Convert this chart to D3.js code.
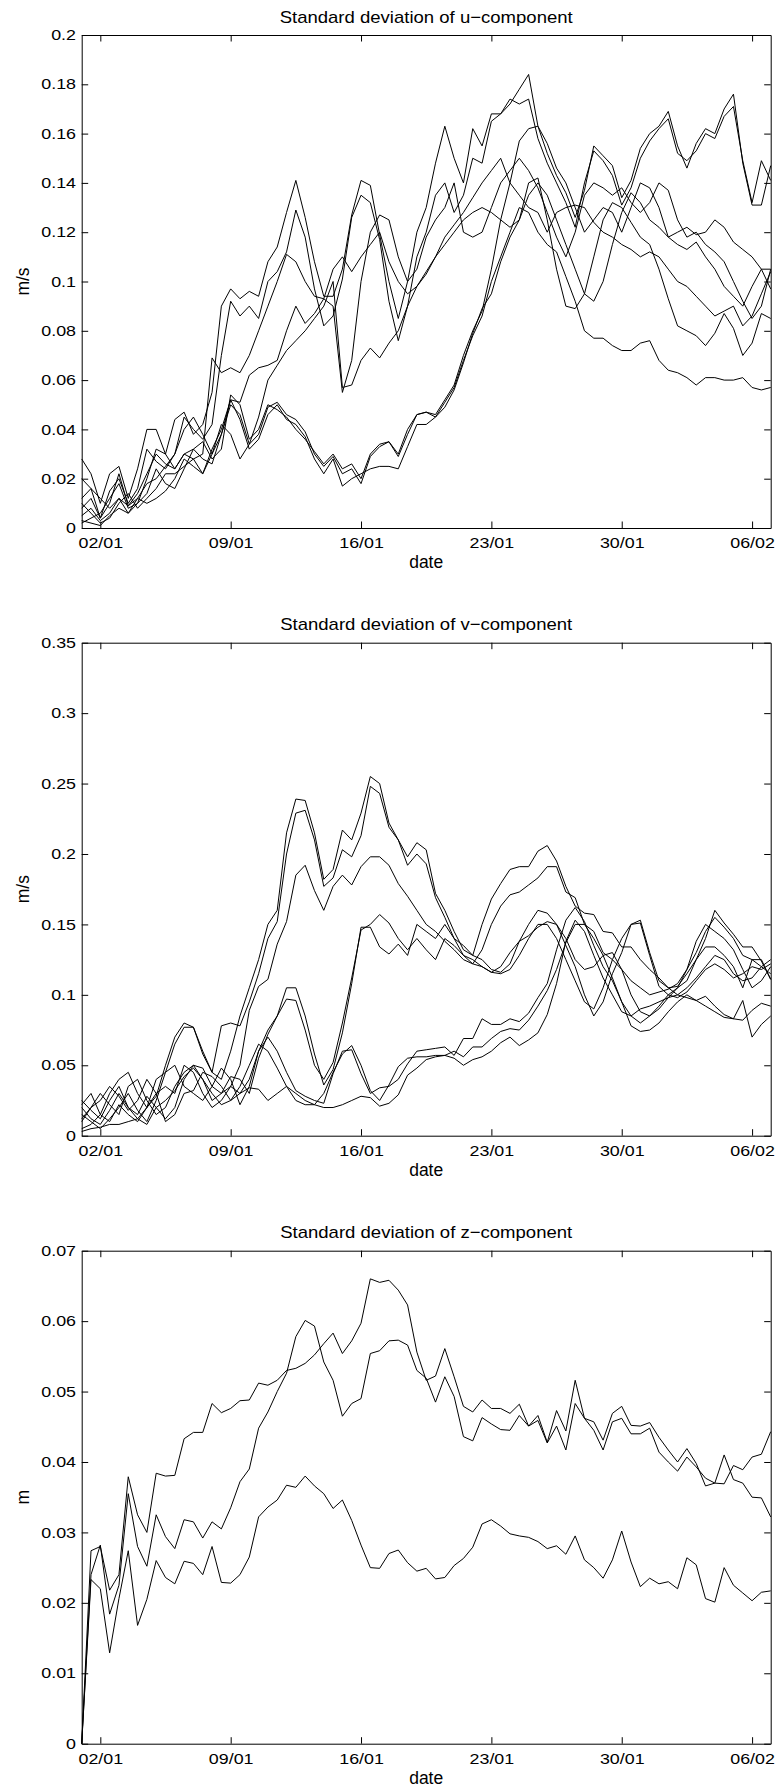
<!DOCTYPE html>
<html>
<head>
<meta charset="utf-8">
<script src="https://cdn.jsdelivr.net/npm/d3@7"></script>
<style>
  html, body { margin: 0; padding: 0; background: #fff; }
  svg { display: block; font-family: "Liberation Sans", Arial, Helvetica, sans-serif; }
</style>
</head>
<body>
<svg id="chart" width="779" height="1789"></svg>
<script>
// Sampling: one value every 12 hours, 1 Jan 00:00 .. 7 Feb 00:00
const year = 2000;
const startDate = Date.UTC(year, 0, 1);
const endDate = Date.UTC(year, 1, 7);
const stepHours = 12;

// Axis ticks
const dateTickLabels = ["02/01", "09/01", "16/01", "23/01", "30/01", "06/02"];
const uTicks = [0, 0.02, 0.04, 0.06, 0.08, 0.1, 0.12, 0.14, 0.16, 0.18, 0.2];
const vTicks = [0, 0.05, 0.1, 0.15, 0.2, 0.25, 0.3, 0.35];
const zTicks = [0, 0.01, 0.02, 0.03, 0.04, 0.05, 0.06, 0.07];

// Standard deviation of u-component (m/s), 8 ensemble members
const u1 = [0.028,0.022,0.010,0.022,0.025,0.012,0.024,0.040,0.040,0.030,
            0.044,0.047,0.038,0.042,0.055,0.090,0.097,0.093,0.096,0.094,
            0.108,0.114,0.128,0.141,0.126,0.108,0.094,0.094,0.105,0.127,
            0.141,0.139,0.119,0.100,0.085,0.100,0.120,0.130,0.148,0.163,
            0.150,0.140,0.162,0.155,0.168,0.168,0.172,0.178,0.184,0.163,
            0.152,0.143,0.136,0.126,0.137,0.155,0.151,0.147,0.134,0.141,
            0.154,0.160,0.163,0.169,0.155,0.146,0.156,0.162,0.160,0.170,
            0.176,0.148,0.131,0.131,0.147];
const u2 = [0.012,0.016,0.004,0.015,0.020,0.010,0.016,0.032,0.027,0.024,
            0.030,0.045,0.040,0.036,0.042,0.070,0.092,0.086,0.090,0.085,
            0.100,0.104,0.112,0.129,0.118,0.097,0.082,0.086,0.101,0.126,
            0.135,0.132,0.117,0.092,0.076,0.090,0.110,0.120,0.135,0.140,
            0.128,0.135,0.150,0.148,0.165,0.168,0.174,0.172,0.174,0.158,
            0.148,0.140,0.132,0.122,0.140,0.153,0.149,0.143,0.131,0.138,
            0.150,0.157,0.162,0.166,0.152,0.149,0.153,0.160,0.158,0.167,
            0.171,0.149,0.132,0.149,0.141];
const u3 = [0.003,0.002,0.001,0.005,0.008,0.006,0.012,0.010,0.012,0.015,
            0.020,0.028,0.025,0.022,0.030,0.038,0.050,0.046,0.034,0.038,
            0.049,0.051,0.046,0.044,0.039,0.030,0.025,0.029,0.022,0.024,
            0.018,0.029,0.033,0.035,0.029,0.038,0.046,0.047,0.046,0.052,
            0.058,0.070,0.080,0.088,0.105,0.125,0.140,0.157,0.162,0.163,
            0.156,0.146,0.140,0.130,0.120,0.125,0.130,0.128,0.120,0.130,
            0.140,0.138,0.130,0.118,0.120,0.122,0.119,0.120,0.125,0.122,
            0.116,0.113,0.110,0.105,0.097];
const u4 = [0.008,0.012,0.004,0.010,0.022,0.009,0.014,0.022,0.030,0.026,
            0.024,0.030,0.032,0.035,0.028,0.032,0.054,0.050,0.036,0.040,
            0.050,0.048,0.045,0.040,0.036,0.031,0.026,0.030,0.024,0.026,
            0.020,0.030,0.034,0.035,0.030,0.040,0.046,0.047,0.045,0.051,
            0.057,0.068,0.078,0.086,0.100,0.110,0.120,0.130,0.128,0.120,
            0.115,0.112,0.102,0.092,0.080,0.077,0.077,0.074,0.072,0.072,
            0.075,0.076,0.068,0.064,0.063,0.061,0.058,0.061,0.061,0.060,
            0.060,0.061,0.057,0.056,0.057];
const u5 = [0.020,0.016,0.012,0.008,0.012,0.006,0.010,0.014,0.024,0.018,
            0.016,0.024,0.032,0.028,0.026,0.038,0.052,0.044,0.032,0.036,
            0.046,0.050,0.044,0.042,0.037,0.028,0.022,0.028,0.017,0.020,
            0.022,0.024,0.025,0.025,0.024,0.033,0.042,0.042,0.045,0.049,
            0.056,0.067,0.079,0.089,0.095,0.108,0.118,0.125,0.140,0.142,
            0.125,0.105,0.090,0.089,0.095,0.110,0.125,0.132,0.130,0.124,
            0.118,0.115,0.105,0.093,0.082,0.080,0.078,0.074,0.079,0.087,
            0.081,0.070,0.075,0.087,0.085];
const u6 = [0.002,0.004,0.006,0.012,0.018,0.008,0.010,0.020,0.032,0.030,
            0.024,0.030,0.028,0.022,0.032,0.040,0.052,0.051,0.062,0.065,
            0.066,0.068,0.080,0.090,0.083,0.087,0.093,0.090,0.055,0.068,
            0.100,0.120,0.127,0.125,0.110,0.100,0.105,0.118,0.125,0.130,
            0.140,0.120,0.118,0.120,0.130,0.140,0.145,0.150,0.145,0.138,
            0.128,0.118,0.110,0.120,0.135,0.140,0.138,0.135,0.138,0.132,
            0.128,0.132,0.140,0.137,0.125,0.118,0.120,0.115,0.112,0.108,
            0.100,0.092,0.085,0.090,0.105];
const u7 = [0.010,0.006,0.002,0.004,0.010,0.014,0.008,0.012,0.016,0.022,
            0.022,0.025,0.028,0.030,0.069,0.063,0.065,0.063,0.070,0.080,
            0.090,0.100,0.111,0.108,0.100,0.094,0.093,0.105,0.110,0.104,
            0.110,0.115,0.120,0.108,0.100,0.095,0.098,0.103,0.110,0.118,
            0.123,0.128,0.134,0.140,0.145,0.150,0.140,0.135,0.130,0.128,
            0.120,0.128,0.130,0.131,0.130,0.124,0.120,0.118,0.115,0.113,
            0.110,0.112,0.110,0.105,0.100,0.098,0.094,0.090,0.086,0.088,
            0.090,0.082,0.086,0.095,0.104];
const u8 = [0.005,0.008,0.003,0.006,0.012,0.009,0.012,0.018,0.020,0.025,
            0.030,0.040,0.045,0.038,0.030,0.042,0.038,0.028,0.034,0.045,
            0.060,0.066,0.072,0.076,0.080,0.085,0.090,0.100,0.057,0.058,
            0.068,0.073,0.069,0.075,0.080,0.090,0.098,0.104,0.110,0.115,
            0.120,0.125,0.128,0.130,0.128,0.125,0.122,0.125,0.135,0.140,
            0.135,0.125,0.115,0.105,0.095,0.092,0.100,0.115,0.128,0.136,
            0.132,0.125,0.122,0.118,0.115,0.113,0.116,0.110,0.105,0.098,
            0.094,0.090,0.098,0.105,0.105];

// Standard deviation of v-component (m/s)
const v1 = [0.020,0.012,0.008,0.018,0.030,0.020,0.012,0.020,0.028,0.050,
            0.070,0.080,0.077,0.060,0.045,0.040,0.060,0.085,0.105,0.125,
            0.150,0.160,0.215,0.239,0.238,0.215,0.182,0.189,0.217,0.210,
            0.229,0.255,0.250,0.222,0.210,0.198,0.208,0.203,0.172,0.160,
            0.145,0.132,0.128,0.150,0.168,0.179,0.189,0.191,0.191,0.202,
            0.206,0.195,0.177,0.163,0.158,0.157,0.145,0.144,0.134,0.134,
            0.125,0.118,0.112,0.105,0.106,0.115,0.125,0.140,0.160,0.151,
            0.143,0.134,0.134,0.124,0.111];
const v2 = [0.015,0.010,0.005,0.012,0.020,0.030,0.018,0.010,0.025,0.045,
            0.065,0.077,0.077,0.058,0.045,0.078,0.080,0.078,0.095,0.115,
            0.140,0.152,0.200,0.229,0.231,0.210,0.177,0.183,0.203,0.198,
            0.213,0.248,0.243,0.219,0.210,0.192,0.200,0.193,0.169,0.155,
            0.140,0.128,0.122,0.132,0.150,0.163,0.171,0.173,0.178,0.183,
            0.191,0.191,0.173,0.169,0.150,0.145,0.130,0.125,0.118,0.110,
            0.105,0.100,0.102,0.104,0.108,0.118,0.130,0.145,0.155,0.148,
            0.140,0.128,0.125,0.120,0.115];
const v3 = [0.025,0.018,0.012,0.025,0.035,0.020,0.015,0.028,0.020,0.012,
            0.020,0.040,0.050,0.048,0.035,0.030,0.035,0.050,0.089,0.106,
            0.111,0.136,0.152,0.185,0.192,0.174,0.160,0.177,0.185,0.178,
            0.191,0.198,0.198,0.192,0.179,0.170,0.160,0.150,0.145,0.138,
            0.132,0.125,0.122,0.120,0.116,0.120,0.130,0.138,0.142,0.148,
            0.152,0.150,0.140,0.125,0.118,0.120,0.128,0.130,0.118,0.100,
            0.088,0.085,0.090,0.098,0.105,0.110,0.125,0.134,0.134,0.128,
            0.120,0.105,0.125,0.125,0.111];
const v4 = [0.010,0.020,0.030,0.022,0.015,0.035,0.040,0.025,0.015,0.020,
            0.035,0.045,0.050,0.040,0.025,0.030,0.042,0.040,0.030,0.055,
            0.072,0.085,0.105,0.105,0.085,0.058,0.036,0.047,0.073,0.108,
            0.148,0.148,0.134,0.129,0.136,0.128,0.150,0.145,0.140,0.150,
            0.140,0.135,0.128,0.125,0.118,0.116,0.122,0.138,0.150,0.160,
            0.158,0.150,0.135,0.120,0.100,0.085,0.095,0.115,0.130,0.150,
            0.153,0.130,0.110,0.105,0.100,0.105,0.112,0.120,0.128,0.125,
            0.115,0.110,0.112,0.120,0.125];
const v5 = [0.022,0.030,0.015,0.030,0.040,0.045,0.030,0.020,0.030,0.035,
            0.030,0.050,0.045,0.030,0.020,0.025,0.035,0.030,0.040,0.060,
            0.075,0.085,0.097,0.096,0.075,0.050,0.040,0.052,0.080,0.112,
            0.146,0.150,0.157,0.151,0.140,0.132,0.140,0.132,0.125,0.140,
            0.135,0.128,0.125,0.120,0.116,0.115,0.118,0.128,0.140,0.150,
            0.150,0.140,0.125,0.110,0.095,0.090,0.105,0.125,0.140,0.150,
            0.151,0.128,0.106,0.100,0.098,0.102,0.110,0.118,0.122,0.118,
            0.112,0.115,0.120,0.118,0.122];
const v6 = [0.005,0.008,0.015,0.010,0.022,0.015,0.010,0.020,0.040,0.045,
            0.050,0.035,0.030,0.025,0.035,0.048,0.040,0.022,0.035,0.060,
            0.070,0.060,0.045,0.032,0.028,0.025,0.023,0.044,0.060,0.061,
            0.044,0.030,0.034,0.035,0.040,0.051,0.060,0.061,0.062,0.063,
            0.057,0.069,0.069,0.083,0.079,0.079,0.083,0.081,0.087,0.098,
            0.108,0.132,0.153,0.162,0.152,0.135,0.120,0.110,0.095,0.085,
            0.080,0.085,0.092,0.100,0.105,0.118,0.138,0.150,0.145,0.140,
            0.132,0.118,0.105,0.110,0.120];
const v7 = [0.012,0.020,0.025,0.035,0.028,0.018,0.025,0.040,0.030,0.010,
            0.015,0.030,0.032,0.045,0.042,0.035,0.025,0.035,0.050,0.065,
            0.060,0.048,0.035,0.025,0.022,0.022,0.030,0.045,0.058,0.064,
            0.050,0.032,0.025,0.036,0.049,0.055,0.056,0.056,0.057,0.057,
            0.060,0.056,0.063,0.063,0.069,0.074,0.076,0.075,0.082,0.092,
            0.103,0.118,0.137,0.150,0.150,0.140,0.128,0.112,0.095,0.078,
            0.074,0.075,0.080,0.088,0.095,0.100,0.096,0.099,0.092,0.086,
            0.083,0.082,0.089,0.094,0.092];
const v8 = [0.003,0.005,0.006,0.008,0.008,0.010,0.012,0.008,0.020,0.025,
            0.032,0.042,0.048,0.040,0.030,0.022,0.025,0.030,0.034,0.033,
            0.025,0.030,0.035,0.030,0.025,0.022,0.020,0.020,0.022,0.025,
            0.028,0.027,0.021,0.023,0.029,0.043,0.048,0.054,0.056,0.057,
            0.055,0.050,0.054,0.056,0.060,0.066,0.070,0.064,0.068,0.073,
            0.086,0.108,0.138,0.153,0.145,0.128,0.112,0.100,0.088,0.085,
            0.090,0.092,0.095,0.098,0.100,0.098,0.096,0.092,0.088,0.084,
            0.083,0.096,0.070,0.079,0.085];

// Standard deviation of z-component (m)
const z1 = [0,0.0274,0.0280,0.0218,0.0240,0.0379,0.0325,0.0300,0.0384,0.0380,
            0.0381,0.0433,0.0442,0.0442,0.0483,0.0470,0.0476,0.0487,0.0488,0.0512,
            0.0509,0.0516,0.0530,0.0533,0.0540,0.0552,0.0568,0.0583,0.0554,0.0572,
            0.0597,0.0660,0.0655,0.0658,0.0644,0.0623,0.0556,0.0516,0.0522,0.0561,
            0.0521,0.0479,0.0471,0.0488,0.0476,0.0476,0.0469,0.0482,0.0451,0.0466,
            0.0428,0.0473,0.0444,0.0516,0.0462,0.0457,0.0431,0.0469,0.0479,0.0452,
            0.0451,0.0456,0.0435,0.0417,0.0400,0.0419,0.0398,0.0366,0.0370,0.0410,
            0.0375,0.0370,0.0350,0.0349,0.0322];
const z2 = [0,0.0240,0.0282,0.0184,0.0225,0.0355,0.0280,0.0252,0.0325,0.0294,
            0.0277,0.0318,0.0315,0.0292,0.0315,0.0305,0.0335,0.0372,0.0390,0.0448,
            0.0471,0.0500,0.0526,0.0578,0.0601,0.0593,0.0542,0.0516,0.0465,0.0483,
            0.0490,0.0554,0.0558,0.0572,0.0573,0.0566,0.0530,0.0519,0.0485,0.0521,
            0.0493,0.0436,0.0430,0.0463,0.0454,0.0446,0.0445,0.0466,0.0451,0.0459,
            0.0427,0.0451,0.0417,0.0483,0.0462,0.0445,0.0417,0.0457,0.0462,0.0440,
            0.0440,0.0448,0.0414,0.0400,0.0387,0.0407,0.0393,0.0377,0.0370,0.0369,
            0.0395,0.0389,0.0407,0.0411,0.0443];
const z3 = [0,0.0233,0.0220,0.0129,0.0206,0.0274,0.0168,0.0205,0.0260,0.0236,
            0.0227,0.0259,0.0256,0.0240,0.0280,0.0229,0.0228,0.0240,0.0265,0.0322,
            0.0336,0.0346,0.0367,0.0364,0.0380,0.0366,0.0355,0.0334,0.0346,0.0317,
            0.0282,0.0250,0.0249,0.0270,0.0275,0.0257,0.0245,0.0249,0.0234,0.0236,
            0.0253,0.0263,0.0279,0.0312,0.0318,0.0309,0.0298,0.0295,0.0293,0.0287,
            0.0277,0.0281,0.0269,0.0295,0.0261,0.0250,0.0235,0.0261,0.0302,0.0258,
            0.0223,0.0235,0.0227,0.0230,0.0220,0.0264,0.0254,0.0206,0.0201,0.0250,
            0.0225,0.0214,0.0203,0.0215,0.0217];

const uSeries = [u1, u2, u3, u4, u5, u6, u7, u8];
const vSeries = [v1, v2, v3, v4, v5, v6, v7, v8];
const zSeries = [z1, z2, z3];

// ---- layout ----
const plotLeft = 81.7, plotRight = 770.7, plotH = 493;
const tickLen = 6.5;
const tickFont = 14.5, tickStretch = 1.23;
const titleFont = 17, titleStretch = 1.09;
const labelFont = 17.5;

const panels = [
  { top: 35,     title: "Standard deviation of u\u2212component", ylabel: "m/s", ticks: uTicks, series: uSeries },
  { top: 642.7,  title: "Standard deviation of v\u2212component", ylabel: "m/s", ticks: vTicks, series: vSeries },
  { top: 1250.7, title: "Standard deviation of z\u2212component", ylabel: "m",   ticks: zTicks, series: zSeries }
];

const svg = d3.select("#chart");
const parseDay = d3.utcParse("%d/%m/%Y");
const dateTicks = dateTickLabels.map(s => parseDay(s + "/" + year));
const times = d3.range(u1.length).map(i => new Date(startDate + i * stepHours * 3600e3));

const x = d3.scaleUtc()
  .domain([new Date(startDate), new Date(endDate)])
  .range([plotLeft, plotRight]);

function stretchText(sel, factor) {
  sel.each(function () {
    const len = this.getComputedTextLength();
    this.setAttribute("textLength", len * factor);
    this.setAttribute("lengthAdjust", "spacingAndGlyphs");
  });
}

function styleAxis(g) {
  g.attr("font-family", null).attr("font-size", null);
  g.selectAll(".domain").attr("stroke", "#000").attr("stroke-width", 1);
  g.selectAll(".tick line").attr("stroke", "#000").attr("stroke-width", 1);
  g.selectAll(".tick text").attr("fill", "#000").style("font-size", tickFont + "px");
}

panels.forEach(p => {
  const bottom = p.top + plotH;
  const yMax = d3.max(p.ticks);
  const y = d3.scaleLinear().domain([0, yMax]).range([bottom, p.top]);
  const g = svg.append("g");

  // one polyline per ensemble member
  const line = d3.line()
    .x((d, i) => x(times[i]))
    .y(d => y(d));
  g.append("g")
    .selectAll("path")
    .data(p.series)
    .join("path")
    .attr("d", line)
    .attr("fill", "none")
    .attr("stroke", "#000")
    .attr("stroke-width", 1)
    .attr("stroke-linejoin", "round");

  // boxed axes with inward ticks on all four sides
  const fmt = d3.format("~g");
  const gB = g.append("g").attr("transform", `translate(0,${bottom})`)
    .call(d3.axisBottom(x).tickValues(dateTicks).tickFormat(d3.utcFormat("%d/%m"))
      .tickSizeInner(-tickLen).tickSizeOuter(0).tickPadding(10));
  styleAxis(gB);
  const gT = g.append("g").attr("transform", `translate(0,${p.top})`)
    .call(d3.axisTop(x).tickValues(dateTicks).tickFormat("")
      .tickSizeInner(-tickLen).tickSizeOuter(0));
  styleAxis(gT);
  const gL = g.append("g").attr("transform", `translate(${plotLeft},0)`)
    .call(d3.axisLeft(y).tickValues(p.ticks).tickFormat(fmt)
      .tickSizeInner(-tickLen).tickSizeOuter(0).tickPadding(5.7));
  styleAxis(gL);
  const gR = g.append("g").attr("transform", `translate(${plotRight},0)`)
    .call(d3.axisRight(y).tickValues(p.ticks).tickFormat("")
      .tickSizeInner(-tickLen).tickSizeOuter(0));
  styleAxis(gR);

  stretchText(gB.selectAll(".tick text"), tickStretch);
  stretchText(gL.selectAll(".tick text"), tickStretch);

  // title
  const cx = (plotLeft + plotRight) / 2;
  const title = g.append("text")
    .attr("x", cx).attr("y", p.top - 12.3)
    .attr("text-anchor", "middle")
    .style("font-size", titleFont + "px")
    .text(p.title);
  stretchText(title, titleStretch);

  // axis labels
  g.append("text")
    .attr("x", cx).attr("y", bottom + 40)
    .attr("text-anchor", "middle")
    .style("font-size", labelFont + "px")
    .text("date");
  g.append("text")
    .attr("transform", `translate(28.5,${(p.top + bottom) / 2}) rotate(-90)`)
    .attr("text-anchor", "middle")
    .style("font-size", labelFont + "px")
    .text(p.ylabel);
});
</script>
</body>
</html>
